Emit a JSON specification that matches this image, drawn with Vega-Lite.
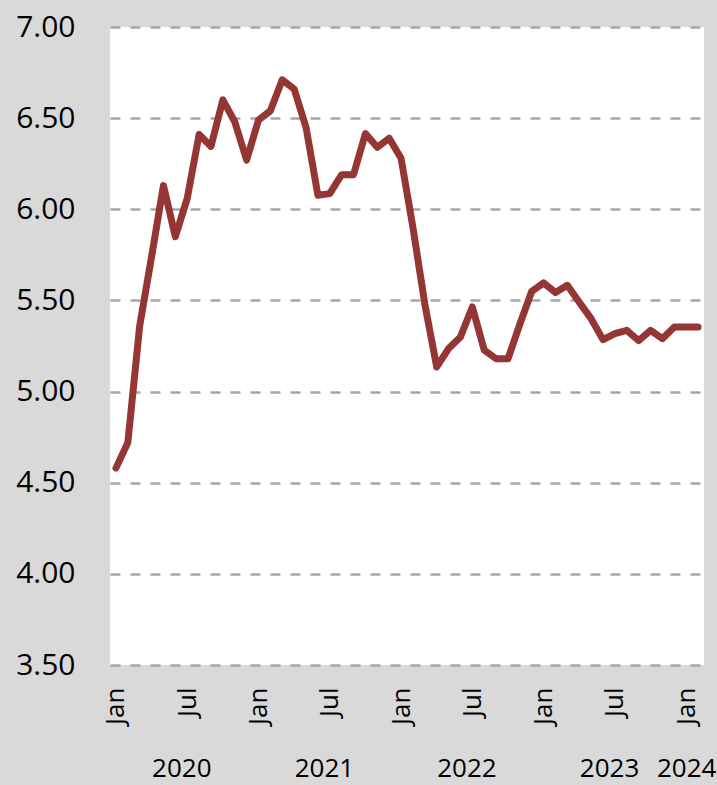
{
  "$schema": "https://vega.github.io/schema/vega-lite/v6.json",
  "width": 594,
  "height": 638,
  "autosize": "none",
  "padding": {"left": 110, "top": 27, "right": 13, "bottom": 120},
  "background": "#d9d9d9",
  "config": {
    "view": {"fill": "white", "stroke": null},
    "font": "Open Sans",
    "axis": {"labelColor": "#000000", "labelFont": "Open Sans"}
  },
  "data": {
    "values": [
      {"month": "2020-01", "value": 4.58},
      {"month": "2020-02", "value": 4.72},
      {"month": "2020-03", "value": 5.36},
      {"month": "2020-04", "value": 5.74},
      {"month": "2020-05", "value": 6.13},
      {"month": "2020-06", "value": 5.85},
      {"month": "2020-07", "value": 6.06},
      {"month": "2020-08", "value": 6.41},
      {"month": "2020-09", "value": 6.345},
      {"month": "2020-10", "value": 6.60},
      {"month": "2020-11", "value": 6.48},
      {"month": "2020-12", "value": 6.27},
      {"month": "2021-01", "value": 6.49},
      {"month": "2021-02", "value": 6.54},
      {"month": "2021-03", "value": 6.71},
      {"month": "2021-04", "value": 6.66},
      {"month": "2021-05", "value": 6.45},
      {"month": "2021-06", "value": 6.077},
      {"month": "2021-07", "value": 6.086},
      {"month": "2021-08", "value": 6.19},
      {"month": "2021-09", "value": 6.19},
      {"month": "2021-10", "value": 6.415},
      {"month": "2021-11", "value": 6.34},
      {"month": "2021-12", "value": 6.39},
      {"month": "2022-01", "value": 6.28},
      {"month": "2022-02", "value": 5.90},
      {"month": "2022-03", "value": 5.48},
      {"month": "2022-04", "value": 5.135},
      {"month": "2022-05", "value": 5.236},
      {"month": "2022-06", "value": 5.30},
      {"month": "2022-07", "value": 5.464},
      {"month": "2022-08", "value": 5.227},
      {"month": "2022-09", "value": 5.18},
      {"month": "2022-10", "value": 5.18},
      {"month": "2022-11", "value": 5.37},
      {"month": "2022-12", "value": 5.55},
      {"month": "2023-01", "value": 5.596},
      {"month": "2023-02", "value": 5.543},
      {"month": "2023-03", "value": 5.583},
      {"month": "2023-04", "value": 5.49},
      {"month": "2023-05", "value": 5.40},
      {"month": "2023-06", "value": 5.285},
      {"month": "2023-07", "value": 5.318},
      {"month": "2023-08", "value": 5.336},
      {"month": "2023-09", "value": 5.28},
      {"month": "2023-10", "value": 5.336},
      {"month": "2023-11", "value": 5.29},
      {"month": "2023-12", "value": 5.354},
      {"month": "2024-01", "value": 5.354},
      {"month": "2024-02", "value": 5.354}
    ]
  },
  "layer": [
    {
      "mark": {"type": "line", "color": "#943634", "strokeWidth": 7, "strokeCap": "round", "strokeJoin": "round"},
      "encoding": {
        "x": {
          "field": "month",
          "type": "ordinal",
          "sort": null,
          "axis": {
            "orient": "bottom",
            "title": null,
            "domain": false,
            "ticks": false,
            "grid": false,
            "labelAngle": -90,
            "labelAlign": "right",
            "labelBaseline": "middle",
            "labelPadding": 22,
            "labelFontSize": 26,
            "labelOverlap": false,
            "labelExpr": "substring(datum.value, 5, 7) == '01' ? 'Jan' : (substring(datum.value, 5, 7) == '07' ? 'Jul' : '')"
          }
        },
        "y": {
          "field": "value",
          "type": "quantitative",
          "scale": {"domain": [3.5, 7], "nice": false, "zero": false},
          "axis": {
            "title": null,
            "values": [3.5, 4, 4.5, 5, 5.5, 6, 6.5, 7],
            "format": ".2f",
            "domain": false,
            "ticks": false,
            "labelFontSize": 30,
            "labelPadding": 35,
            "grid": true,
            "gridColor": "#a6a6a6",
            "gridDash": [10, 10],
            "gridWidth": 2.5
          }
        }
      }
    },
    {
      "mark": {"type": "line", "opacity": 0},
      "encoding": {
        "x": {
          "field": "month",
          "type": "ordinal",
          "sort": null,
          "axis": {
            "orient": "bottom",
            "title": null,
            "domain": false,
            "ticks": false,
            "grid": false,
            "labelAngle": 0,
            "labelAlign": "center",
            "labelBaseline": "top",
            "labelPadding": 90,
            "labelOffset": {"condition": {"test": "datum.value == '2024-01'", "value": 0}, "value": 6},
            "labelFontSize": 26,
            "labelOverlap": false,
            "labelExpr": "(substring(datum.value, 5, 7) == '06' || datum.value == '2024-01') ? substring(datum.value, 0, 4) : ''"
          }
        },
        "y": {"field": "value", "type": "quantitative"}
      }
    }
  ],
  "resolve": {"axis": {"x": "independent"}}
}
